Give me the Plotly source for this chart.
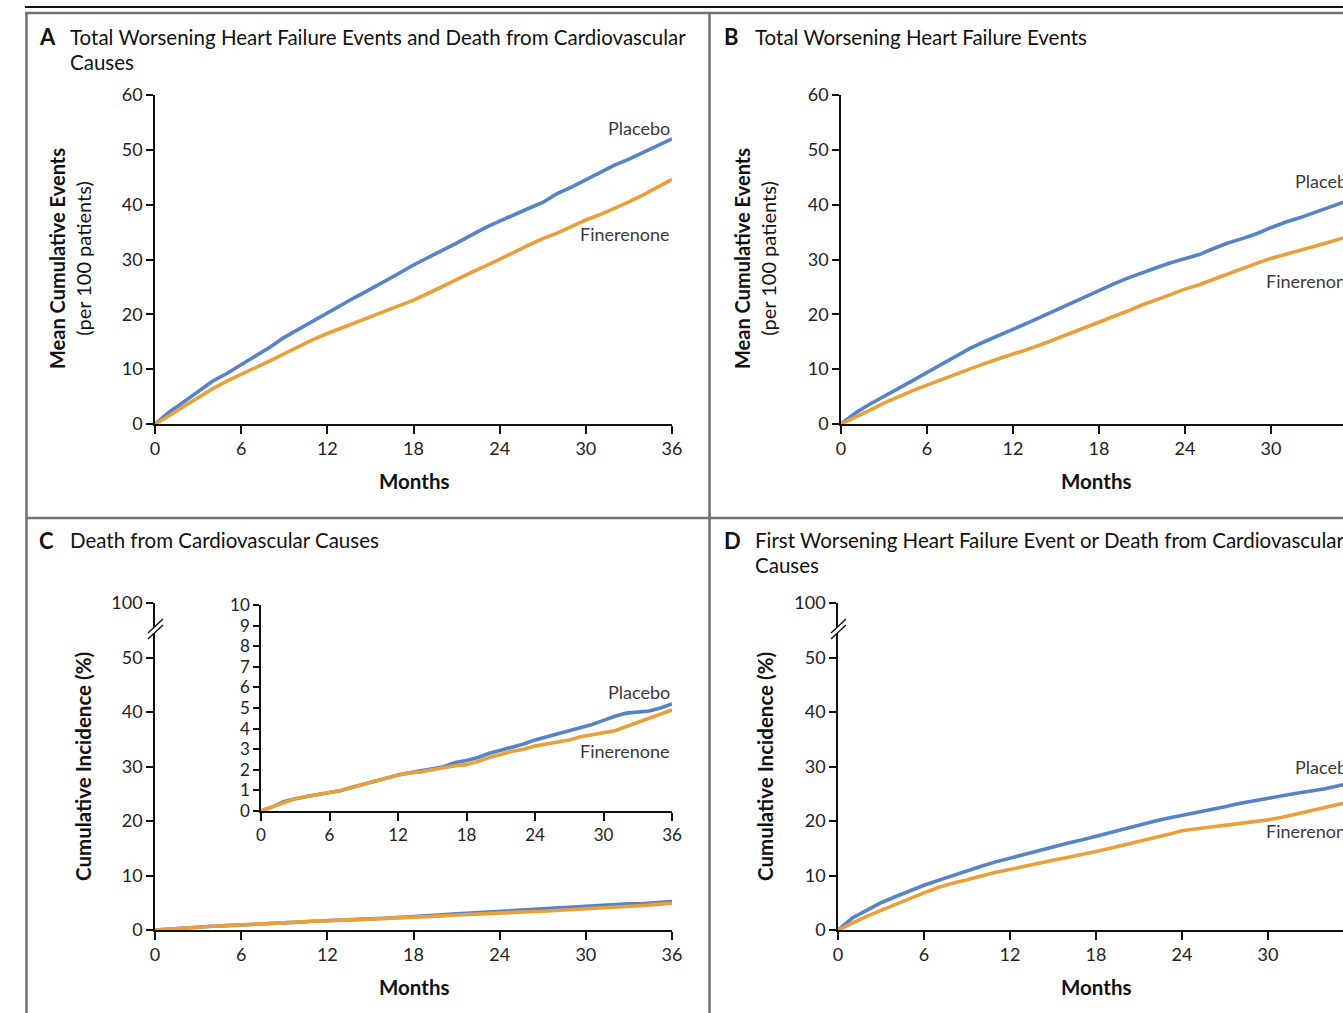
import plotly.graph_objects as go

W, H = 1343, 1013

months = list(range(0, 37))

# Panel A: Total worsening HF events and CV death (mean cumulative events per 100 patients)
a_placebo = [0, 2.2, 4.0, 6.0, 7.8, 9.2, 10.8, 12.3, 14.0, 15.8, 17.3, 18.8, 20.3, 21.7, 23.2, 24.6,
             26.0, 27.5, 29.0, 30.3, 31.6, 33.0, 34.4, 35.8, 37.0, 38.2, 39.3, 40.4, 42.0, 43.2, 44.5,
             45.8, 47.2, 48.3, 49.5, 50.8, 52.0]
a_finerenone = [0, 1.5, 3.2, 4.8, 6.4, 7.8, 9.1, 10.3, 11.5, 12.8, 14.2, 15.4, 16.5, 17.5, 18.5, 19.5,
                20.5, 21.5, 22.6, 23.8, 25.1, 26.4, 27.6, 28.8, 30.0, 31.3, 32.6, 33.8, 34.8, 36.0, 37.2,
                38.2, 39.3, 40.5, 41.8, 43.2, 44.6]

# Panel B: Total worsening HF events
b_placebo = [0, 2.0, 3.6, 5.0, 6.5, 7.9, 9.4, 10.9, 12.3, 13.8, 15.0, 16.1, 17.2, 18.4, 19.6, 20.8,
             22.0, 23.2, 24.4, 25.5, 26.6, 27.6, 28.5, 29.4, 30.2, 30.9, 32.0, 33.0, 33.8, 34.7, 35.8,
             36.8, 37.6, 38.5, 39.4, 40.3, 41.3]
b_finerenone = [0, 1.2, 2.5, 3.8, 5.0, 6.1, 7.1, 8.1, 9.1, 10.0, 11.0, 11.9, 12.7, 13.6, 14.5, 15.5,
                16.5, 17.6, 18.6, 19.6, 20.6, 21.7, 22.6, 23.6, 24.6, 25.4, 26.4, 27.4, 28.3, 29.3, 30.2,
                30.9, 31.6, 32.3, 33.1, 33.9, 34.6]

# Panel C: Death from cardiovascular causes (cumulative incidence %)
c_placebo = [0, 0.2, 0.45, 0.6, 0.7, 0.8, 0.9, 1.0, 1.15, 1.3, 1.45, 1.6, 1.75, 1.85, 1.95, 2.05,
             2.15, 2.35, 2.45, 2.6, 2.8, 2.95, 3.1, 3.25, 3.45, 3.6, 3.75, 3.9, 4.05, 4.2, 4.4,
             4.6, 4.75, 4.8, 4.85, 5.0, 5.2]
c_finerenone = [0, 0.2, 0.4, 0.6, 0.7, 0.8, 0.9, 1.0, 1.15, 1.3, 1.45, 1.6, 1.75, 1.85, 1.9, 2.0,
                2.1, 2.2, 2.25, 2.4, 2.6, 2.75, 2.9, 3.0, 3.15, 3.25, 3.35, 3.45, 3.6, 3.7, 3.8,
                3.9, 4.1, 4.3, 4.5, 4.7, 4.9]

# Panel D: First worsening HF event or CV death (cumulative incidence %)
d_placebo = [0, 2.2, 3.6, 5.0, 6.1, 7.2, 8.2, 9.1, 10.0, 10.9, 11.7, 12.5, 13.2, 13.9, 14.6, 15.3,
             15.9, 16.5, 17.2, 17.9, 18.6, 19.3, 19.9, 20.5, 21.0, 21.5, 22.0, 22.6, 23.2, 23.7, 24.2,
             24.7, 25.1, 25.5, 25.9, 26.5, 27.0]
d_finerenone = [0, 1.3, 2.5, 3.6, 4.7, 5.8, 6.8, 7.8, 8.6, 9.2, 9.9, 10.6, 11.1, 11.7, 12.2, 12.8,
                13.3, 13.8, 14.4, 15.0, 15.6, 16.3, 16.9, 17.5, 18.2, 18.6, 18.9, 19.2, 19.5, 19.8, 20.2,
                20.7, 21.3, 22.0, 22.6, 23.2, 23.7]

x_ticks = [0, 6, 12, 18, 24, 30, 36]
y_ticks_events = [0, 10, 20, 30, 40, 50, 60]
y_ticks_incidence = [0, 10, 20, 30, 40, 50, 60]
y_ticktext_incidence = ["0", "10", "20", "30", "40", "50", "100"]
inset_y_ticks = list(range(0, 11))

BLUE = "#5583c6"
ORANGE = "#e9a03b"
FONT = "Lato"
TXT = "#222222"

def px(x):
    return x / W

def py(y):
    return 1 - y / H

fig = go.Figure()

panels = [
    ("x", "y", a_placebo, a_finerenone),
    ("x2", "y2", b_placebo, b_finerenone),
    ("x3", "y3", c_placebo, c_finerenone),
    ("x4", "y4", d_placebo, d_finerenone),
    ("x5", "y5", c_placebo, c_finerenone),
]
for xa, ya, p, f in panels:
    fig.add_trace(go.Scatter(x=months, y=p, xaxis=xa, yaxis=ya, mode="lines",
                             line=dict(color=BLUE, width=3.6), showlegend=False, hoverinfo="skip"))
    fig.add_trace(go.Scatter(x=months, y=f, xaxis=xa, yaxis=ya, mode="lines",
                             line=dict(color=ORANGE, width=3.6), showlegend=False, hoverinfo="skip"))

def xax(dom, rng, anchor, size=18):
    return dict(domain=dom, range=rng, anchor=anchor, tickvals=x_ticks, showline=True,
                linecolor="#111", linewidth=1.6, ticks="outside", ticklen=8, tickwidth=1.6,
                tickcolor="#111", showgrid=False, zeroline=False, fixedrange=True, automargin=False,
                tickfont=dict(family=FONT, size=size, color=TXT))

def yax(dom, rng, anchor, vals, text=None, size=18, ticklen=7):
    d = dict(domain=dom, range=rng, anchor=anchor, tickvals=vals, showline=True,
             linecolor="#111", linewidth=1.6, ticks="outside", ticklen=ticklen, tickwidth=1.6,
             tickcolor="#111", showgrid=False, zeroline=False, fixedrange=True, automargin=False,
             tickfont=dict(family=FONT, size=size, color=TXT))
    if text is not None:
        d["ticktext"] = text
    return d

top_dom = [py(424), py(95)]
bot_dom = [py(930), py(603)]

fig.update_layout(
    width=W, height=H, margin=dict(l=0, r=0, t=0, b=0, pad=0, autoexpand=False),
    paper_bgcolor="white", plot_bgcolor="rgba(0,0,0,0)",
    xaxis=xax([px(155), px(672)], [0, 36], "y"),
    yaxis=yax(top_dom, [0, 60], "x", y_ticks_events),
    xaxis2=xax([px(841), 1], [0, (1343 - 841) / 14.33], "y2"),
    yaxis2=yax(top_dom, [0, 60], "x2", y_ticks_events),
    xaxis3=xax([px(155), px(672)], [0, 36], "y3"),
    yaxis3=yax(bot_dom, [0, 60], "x3", y_ticks_incidence, y_ticktext_incidence),
    xaxis4=xax([px(838), 1], [0, (1343 - 838) / 14.33], "y4"),
    yaxis4=yax(bot_dom, [0, 60], "x4", y_ticks_incidence, y_ticktext_incidence),
    xaxis5=xax([px(261), px(672)], [0, 36], "y5", size=17),
    yaxis5=yax([py(811), py(605)], [0, 10], "x5", inset_y_ticks, size=17, ticklen=6),
)

shapes = []
# frame lines
shapes.append(dict(type="line", xref="paper", yref="paper", x0=px(25), x1=1.0, y0=py(7), y1=py(7),
                   line=dict(color="#111", width=2)))
GRAY = "#737373"
shapes.append(dict(type="line", xref="paper", yref="paper", x0=px(25), x1=1.0, y0=py(13), y1=py(13),
                   line=dict(color=GRAY, width=2.6)))
shapes.append(dict(type="line", xref="paper", yref="paper", x0=px(26.5), x1=px(26.5), y0=py(13), y1=0,
                   line=dict(color=GRAY, width=2.6)))
shapes.append(dict(type="line", xref="paper", yref="paper", x0=px(709.5), x1=px(709.5), y0=py(13), y1=0,
                   line=dict(color=GRAY, width=2.6)))
shapes.append(dict(type="line", xref="paper", yref="paper", x0=px(26.5), x1=1.0, y0=py(518), y1=py(518),
                   line=dict(color=GRAY, width=2.6)))

# axis breaks on panels C and D
for ax_x in (155, 838):
    x0, x1 = ax_x - 7, ax_x + 8
    path = (f"M {px(x0)},{py(633)} L {px(x1)},{py(619)} L {px(x1)},{py(625)} "
            f"L {px(x0)},{py(639)} Z")
    shapes.append(dict(type="path", xref="paper", yref="paper", path=path,
                       fillcolor="white", line=dict(width=0), layer="above"))
    shapes.append(dict(type="line", xref="paper", yref="paper", x0=px(x0), y0=py(633),
                       x1=px(x1), y1=py(619), line=dict(color="#111", width=1.4), layer="above"))
    shapes.append(dict(type="line", xref="paper", yref="paper", x0=px(x0), y0=py(639),
                       x1=px(x1), y1=py(625), line=dict(color="#111", width=1.4), layer="above"))
fig.update_layout(shapes=shapes)

ann = []

def text(x, y, s, size=18, xanchor="left", yanchor="middle", color=TXT, angle=0):
    ann.append(dict(x=px(x), y=py(y), xref="paper", yref="paper", text=s, showarrow=False,
                    xanchor=xanchor, yanchor=yanchor, textangle=angle, align="center",
                    font=dict(family=FONT, size=size, color=color)))

# panel titles
TS = 20.5
text(37, 37, "<b>A</b>", size=22, color="#111")
text(68, 37, "Total Worsening Heart Failure Events and Death from Cardiovascular", size=TS, color="#111")
text(68, 62, "Causes", size=TS, color="#111")
text(722, 37, "<b>B</b>", size=22, color="#111")
text(753, 37, "Total Worsening Heart Failure Events", size=TS, color="#111")
text(37, 540, "<b>C</b>", size=22, color="#111")
text(68, 540, "Death from Cardiovascular Causes", size=TS, color="#111")
text(722, 540, "<b>D</b>", size=22, color="#111")
text(753, 540, "First Worsening Heart Failure Event or Death from Cardiovascular", size=TS, color="#111")
text(753, 565, "Causes", size=TS, color="#111")

# axis titles
for cx in (414, 1096):
    text(cx, 481, "<b>Months</b>", size=20.5, xanchor="center", color="#111")
    text(cx, 987, "<b>Months</b>", size=20.5, xanchor="center", color="#111")
for cx in (70, 755):
    text(cx, 259, "<b>Mean Cumulative Events</b><br>(per 100 patients)", size=20,
         xanchor="center", angle=-90, color="#111")
for cx in (83, 765):
    text(cx, 767, "<b>Cumulative Incidence (%)</b>", size=20.5, xanchor="center", angle=-90, color="#111")

# curve labels (B and D labels run off the right edge, as in the original cropped figure)
LC = "#3a3a3a"
text(672, 128, "Placebo", xanchor="right", color=LC)
text(672, 234, "Finerenone", xanchor="right", color=LC)
text(1293, 181, "Placebo", color=LC)
text(1264, 281, "Finerenone", color=LC)
text(672, 692, "Placebo", xanchor="right", color=LC)
text(672, 751, "Finerenone", xanchor="right", color=LC)
text(1293, 767, "Placebo", color=LC)
text(1264, 831, "Finerenone", color=LC)

fig.update_layout(annotations=ann)

fig.write_html("out.html", config=dict(displayModeBar=False),
               post_script="document.body.style.margin='0';document.body.style.overflow='hidden';")
